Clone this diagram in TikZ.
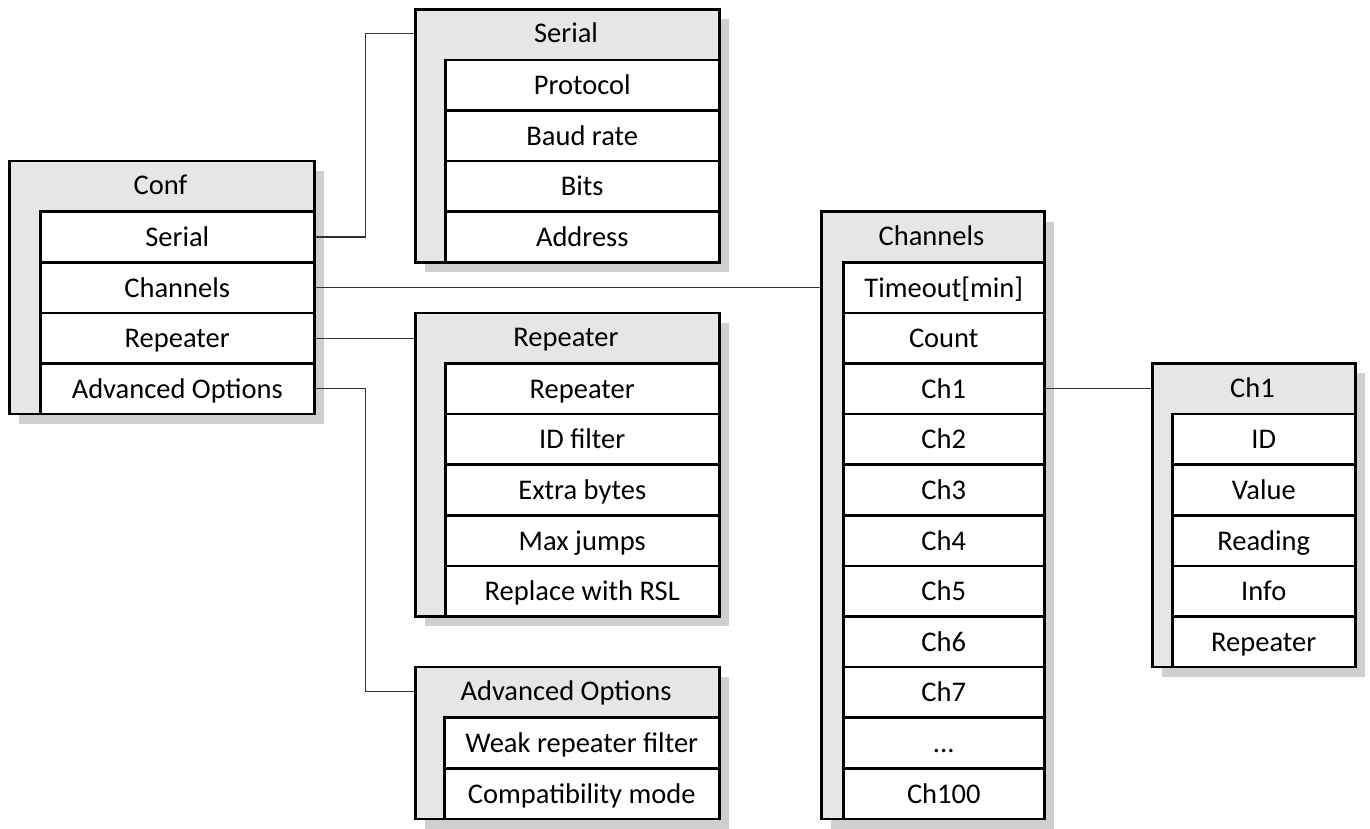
\documentclass[tikz,border=0pt]{standalone}
\usepackage{fontspec}
\setmainfont{Carlito}
\usetikzlibrary{shadows}
\definecolor{hdr}{HTML}{E6E6E6}
\definecolor{shd}{HTML}{CFCFCF}
\def\dotsthree{...}
\begin{document}
\begin{tikzpicture}[x=1pt,y=-1pt,
  font=\fontsize{28.5}{33}\selectfont,
  outerbox/.style={draw=black, line width=2.5pt, fill=hdr, inner sep=0pt, anchor=north west,
    drop shadow={shadow xshift=10pt, shadow yshift=-10pt, fill=shd, opacity=1}},
  cellbox/.style={draw=black, line width=2.5pt, fill=white, inner sep=0pt, anchor=north west,
    minimum height=50.6pt, text height=25pt, text depth=6pt},
  titletext/.style={inner sep=0pt, text height=25pt, text depth=6pt},
  conn/.style={line width=1.2pt, draw=black!80}]
\useasboundingbox (0,0) rectangle (1370,828);

% ---------- Conf ----------
\node[outerbox, minimum width=305pt, minimum height=253pt] (conf) at (8,159.8) {};
\node[titletext] (conf-title) at (160.5,185.1) {Conf};
\foreach \t [count=\i] in {Serial,Channels,Repeater,Advanced Options}
  \node[cellbox, minimum width=274pt] (conf-\i) at (39,{210.4+(\i-1)*50.6}) {\t};

% ---------- Serial ----------
\node[outerbox, minimum width=304pt, minimum height=253pt] (serial) at (414,8) {};
\node[titletext] (serial-title) at (566,33.3) {Serial};
\foreach \t [count=\i] in {Protocol,Baud rate,Bits,Address}
  \node[cellbox, minimum width=274pt] (serial-\i) at (444,{58.6+(\i-1)*50.6}) {\t};

% ---------- Repeater ----------
\node[outerbox, minimum width=304pt, minimum height=303.6pt] (rep) at (414,311.6) {};
\node[titletext] (rep-title) at (566,336.9) {Repeater};
\foreach \t [count=\i] in {Repeater,ID filter,Extra bytes,Max jumps,Replace with RSL}
  \node[cellbox, minimum width=274pt] (rep-\i) at (444,{362.2+(\i-1)*50.6}) {\t};

% ---------- Advanced Options ----------
\node[outerbox, minimum width=304pt, minimum height=151.8pt] (adv) at (414,665.8) {};
\node[titletext] (adv-title) at (566,691.1) {Advanced Options};
\foreach \t [count=\i] in {Weak repeater filter,Compatibility mode}
  \node[cellbox, minimum width=275pt] (adv-\i) at (443,{716.4+(\i-1)*50.6}) {\t};

% ---------- Channels ----------
\node[outerbox, minimum width=223pt, minimum height=607.2pt] (chan) at (820,210.4) {};
\node[titletext] (chan-title) at (931.5,235.7) {Channels};
\foreach \t [count=\i] in {Timeout[min],Count,Ch1,Ch2,Ch3,Ch4,Ch5,Ch6,Ch7,\dotsthree,Ch100}
  \node[cellbox, minimum width=201pt] (chan-\i) at (842,{261+(\i-1)*50.6}) {\t};

% ---------- Ch1 ----------
\node[outerbox, minimum width=203pt, minimum height=303.6pt] (ch1) at (1151,362.2) {};
\node[titletext] (ch1-title) at (1252.5,387.5) {Ch1};
\foreach \t [count=\i] in {ID,Value,Reading,Info,Repeater}
  \node[cellbox, minimum width=183pt] (ch1-\i) at (1171,{412.8+(\i-1)*50.6}) {\t};

% ---------- connectors ----------
\draw[conn] (conf-1.east) -- ++(50,0) |- (serial-title -| serial.west);
\draw[conn] (conf-2.east) -- (conf-2.east -| chan.west);
\draw[conn] (conf-3.east) -- (conf-3.east -| rep.west);
\draw[conn] (conf-4.east) -- ++(50,0) |- (adv-title -| adv.west);
\draw[conn] (chan-3.east) -- (chan-3.east -| ch1.west);
\end{tikzpicture}
\end{document}
